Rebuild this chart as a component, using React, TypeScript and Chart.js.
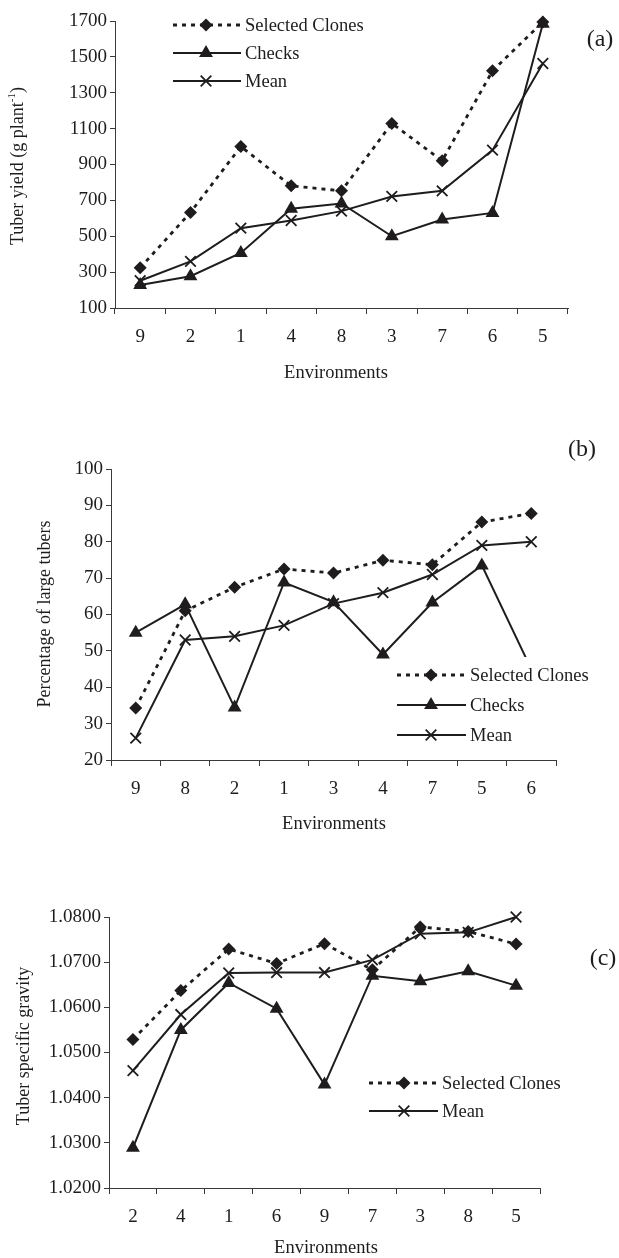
import React, { useEffect, useRef } from 'react';
import { Chart, registerables } from 'chart.js';

Chart.register(...registerables);

// ---------- DATA ----------
const envA = ['9', '2', '1', '4', '8', '3', '7', '6', '5'];
const selA = [324, 633, 1000, 781, 753, 1129, 921, 1422, 1695];
const chkA = [228, 277, 407, 653, 683, 500, 593, 630, 1685];
const meanA = [252, 360, 545, 588, 640, 722, 753, 980, 1463];

const envB = ['9', '8', '2', '1', '3', '4', '7', '5', '6'];
const selB = [34.3, 61, 67.5, 72.5, 71.4, 74.9, 73.7, 85.4, 87.8];
const chkB = [55, 62.8, 34.4, 68.8, 63.4, 49, 63.3, 73.5, 45];
const meanB = [26, 53, 54, 57, 63, 66, 71, 79, 80];

const envC = ['2', '4', '1', '6', '9', '7', '3', '8', '5'];
const selC = [1.0529, 1.0637, 1.0729, 1.0697, 1.0741, 1.0683, 1.0778, 1.0768, 1.074];
const chkC = [1.0289, 1.055, 1.0654, 1.0597, 1.0429, 1.067, 1.0658, 1.068, 1.0648];
const meanC = [1.046, 1.0584, 1.0676, 1.0677, 1.0677, 1.0705, 1.0763, 1.0766, 1.08];

const seriesNames = ['Selected Clones', 'Checks', 'Mean'];
const xTitle = 'Environments';
const yTitleA = 'Tuber yield (g plant';
const yTitleASup = '-1';
const yTitleB = 'Percentage of large tubers';
const yTitleC = 'Tuber specific gravity';

// ---------- STYLE ----------
const INK = '#1e1c1d';
const AXIS = '#3a3a3a';
const FAMILY = '"Liberation Serif", "Times New Roman", serif';
const W = 619;
const XH = 60;
const R_SEL = 6.5;
const R_CHK = 8;
const R_MEAN = 7.5;
const DASH = [4, 5];

type Style = 'sel' | 'chk' | 'mean';

function drawMarker(ctx: CanvasRenderingContext2D, style: Style, x: number, y: number) {
  ctx.save();
  ctx.setLineDash([]);
  ctx.fillStyle = INK;
  ctx.strokeStyle = INK;
  if (style === 'sel') {
    const r = R_SEL;
    ctx.beginPath();
    ctx.moveTo(x, y - r);
    ctx.lineTo(x + r, y);
    ctx.lineTo(x, y + r);
    ctx.lineTo(x - r, y);
    ctx.closePath();
    ctx.fill();
  } else if (style === 'chk') {
    const r = R_CHK;
    const s = Math.sin((2 * Math.PI) / 3) * r;
    ctx.beginPath();
    ctx.moveTo(x, y - r);
    ctx.lineTo(x + s, y + r / 2);
    ctx.lineTo(x - s, y + r / 2);
    ctx.closePath();
    ctx.fill();
  } else {
    const d = R_MEAN * Math.SQRT1_2;
    ctx.lineWidth = 1.8;
    ctx.beginPath();
    ctx.moveTo(x - d, y - d);
    ctx.lineTo(x + d, y + d);
    ctx.moveTo(x + d, y - d);
    ctx.lineTo(x - d, y + d);
    ctx.stroke();
  }
  ctx.restore();
}

type LegendRow = { style: Style; text: string; y: number };
type PanelSpec = {
  top: number;
  height: number;
  area: { left: number; right: number; top: number; bottom: number };
  labels: string[];
  sel: number[];
  chk: number[];
  mean: number[];
  yMin: number;
  yMax: number;
  yStep: number;
  yDec: number;
  yTitle: string;
  yTitleSup?: string;
  yTitlePos: [number, number];
  xTitlePos: [number, number];
  tag: string;
  tagPos: [number, number];
  legend: { x0: number; x1: number; mx: number; tx: number; rows: LegendRow[]; box?: [number, number, number, number] };
};

function makeDecor(spec: PanelSpec) {
  return {
    id: 'decor',
    afterDraw(chart: any) {
      const ctx: CanvasRenderingContext2D = chart.ctx;
      const off = spec.top;
      ctx.save();
      // legend
      const lg = spec.legend;
      if (lg.box) {
        ctx.fillStyle = '#ffffff';
        ctx.fillRect(lg.box[0], lg.box[1] - off, lg.box[2], lg.box[3]);
      }
      for (const row of lg.rows) {
        const y = row.y - off;
        ctx.save();
        ctx.strokeStyle = INK;
        ctx.lineWidth = row.style === 'sel' ? 2.8 : 2;
        ctx.setLineDash(row.style === 'sel' ? DASH : []);
        ctx.beginPath();
        ctx.moveTo(lg.x0, y);
        ctx.lineTo(lg.x1, y);
        ctx.stroke();
        ctx.restore();
        drawMarker(ctx, row.style, lg.mx, y);
        ctx.fillStyle = INK;
        ctx.font = `18.5px ${FAMILY}`;
        ctx.textAlign = 'left';
        ctx.textBaseline = 'middle';
        ctx.fillText(row.text, lg.tx, y + 1);
      }
      // y title (rotated)
      ctx.save();
      ctx.translate(spec.yTitlePos[0], spec.yTitlePos[1] - off);
      ctx.rotate(-Math.PI / 2);
      ctx.fillStyle = INK;
      ctx.textBaseline = 'middle';
      ctx.font = `18px ${FAMILY}`;
      if (spec.yTitleSup) {
        const mainW = ctx.measureText(spec.yTitle).width;
        ctx.font = `11px ${FAMILY}`;
        const supW = ctx.measureText(spec.yTitleSup).width;
        ctx.font = `18px ${FAMILY}`;
        const closeW = ctx.measureText(')').width;
        const total = mainW + supW + closeW;
        let x = -total / 2;
        ctx.textAlign = 'left';
        ctx.fillText(spec.yTitle, x, 0);
        x += mainW;
        ctx.font = `11px ${FAMILY}`;
        ctx.fillText(spec.yTitleSup, x, -6);
        x += supW;
        ctx.font = `18px ${FAMILY}`;
        ctx.fillText(')', x, 0);
      } else {
        ctx.textAlign = 'center';
        ctx.fillText(spec.yTitle, 0, 0);
      }
      ctx.restore();
      // x title
      ctx.fillStyle = INK;
      ctx.font = `18.5px ${FAMILY}`;
      ctx.textAlign = 'center';
      ctx.textBaseline = 'middle';
      ctx.fillText(xTitle, spec.xTitlePos[0], spec.xTitlePos[1] - off);
      // panel tag
      ctx.font = `24px ${FAMILY}`;
      ctx.fillText(spec.tag, spec.tagPos[0], spec.tagPos[1] - off);
      ctx.restore();
    },
  };
}

function Panel({ spec }: { spec: PanelSpec }) {
  const ref = useRef<HTMLCanvasElement>(null);
  useEffect(() => {
    const canvas = ref.current;
    if (!canvas) return;
    const a = spec.area;
    const tickFont = { family: FAMILY, size: 19 };
    const chart = new Chart(canvas, {
      type: 'line',
      data: {
        labels: spec.labels,
        datasets: [
          {
            label: seriesNames[0],
            data: spec.sel,
            borderColor: INK,
            backgroundColor: INK,
            borderWidth: 2.8,
            borderDash: DASH,
            pointStyle: 'rectRot',
            pointRadius: R_SEL,
            pointBorderWidth: 0,
            pointBackgroundColor: INK,
            clip: false,
            tension: 0,
          },
          {
            label: seriesNames[1],
            data: spec.chk,
            borderColor: INK,
            backgroundColor: INK,
            borderWidth: 2,
            pointStyle: 'triangle',
            pointRadius: R_CHK,
            pointBorderWidth: 0,
            pointBackgroundColor: INK,
            clip: false,
            tension: 0,
          },
          {
            label: seriesNames[2],
            data: spec.mean,
            borderColor: INK,
            backgroundColor: INK,
            borderWidth: 2,
            pointStyle: 'crossRot',
            pointRadius: R_MEAN,
            pointBorderWidth: 1.8,
            pointBorderColor: INK,
            clip: false,
            tension: 0,
          },
        ],
      } as any,
      options: {
        responsive: false,
        maintainAspectRatio: false,
        animation: false,
        devicePixelRatio: 1,
        layout: {
          padding: { left: 0, right: W - a.right, top: a.top, bottom: spec.height - a.bottom - XH },
        },
        plugins: { legend: { display: false }, tooltip: { enabled: false } },
        scales: {
          x: {
            type: 'category',
            offset: true,
            grid: { offset: true, drawOnChartArea: false, drawTicks: true, tickLength: 6, color: AXIS, lineWidth: 1 },
            border: { color: AXIS, width: 1 },
            ticks: { font: tickFont, color: INK, padding: 12, maxRotation: 0, autoSkip: false },
            afterFit: (s: any) => {
              s.height = XH;
            },
          },
          y: {
            min: spec.yMin,
            max: spec.yMax,
            grid: { drawOnChartArea: false, drawTicks: true, tickLength: 5, color: AXIS, lineWidth: 1 },
            border: { color: AXIS, width: 1 },
            ticks: {
              font: tickFont,
              color: INK,
              padding: 3,
              stepSize: spec.yStep,
              callback: (v: any) => Number(v).toFixed(spec.yDec),
            },
            afterFit: (s: any) => {
              s.width = a.left;
            },
          },
        },
      } as any,
      plugins: [makeDecor(spec)],
    });
    return () => chart.destroy();
  }, [spec]);
  return (
    <canvas
      ref={ref}
      width={W}
      height={spec.height}
      style={{ position: 'absolute', left: 0, top: spec.top, width: W, height: spec.height }}
    />
  );
}

const specA: PanelSpec = {
  top: 0,
  height: 400,
  area: { left: 115, right: 568, top: 21, bottom: 308 },
  labels: envA,
  sel: selA,
  chk: chkA,
  mean: meanA,
  yMin: 100,
  yMax: 1700,
  yStep: 200,
  yDec: 0,
  yTitle: yTitleA,
  yTitleSup: yTitleASup,
  yTitlePos: [18, 166],
  xTitlePos: [336, 373],
  tag: '(a)',
  tagPos: [600, 40],
  legend: {
    x0: 173,
    x1: 241,
    mx: 206,
    tx: 245,
    rows: [
      { style: 'sel', text: seriesNames[0], y: 25 },
      { style: 'chk', text: seriesNames[1], y: 53 },
      { style: 'mean', text: seriesNames[2], y: 81 },
    ],
  },
};

const specB: PanelSpec = {
  top: 420,
  height: 420,
  area: { left: 111, right: 556, top: 49, bottom: 340 },
  labels: envB,
  sel: selB,
  chk: chkB,
  mean: meanB,
  yMin: 20,
  yMax: 100,
  yStep: 10,
  yDec: 0,
  yTitle: yTitleB,
  yTitlePos: [45, 614],
  xTitlePos: [334, 824],
  tag: '(b)',
  tagPos: [582, 450],
  legend: {
    x0: 397,
    x1: 466,
    mx: 431,
    tx: 470,
    box: [392, 657, 215, 92],
    rows: [
      { style: 'sel', text: seriesNames[0], y: 675 },
      { style: 'chk', text: seriesNames[1], y: 705 },
      { style: 'mean', text: seriesNames[2], y: 735 },
    ],
  },
};

const specC: PanelSpec = {
  top: 840,
  height: 418,
  area: { left: 109, right: 540, top: 77, bottom: 348 },
  labels: envC,
  sel: selC,
  chk: chkC,
  mean: meanC,
  yMin: 1.02,
  yMax: 1.08,
  yStep: 0.01,
  yDec: 4,
  yTitle: yTitleC,
  yTitlePos: [24, 1046],
  xTitlePos: [326, 1248],
  tag: '(c)',
  tagPos: [603, 959],
  legend: {
    x0: 369,
    x1: 438,
    mx: 404,
    tx: 442,
    rows: [
      { style: 'sel', text: seriesNames[0], y: 1083 },
      { style: 'mean', text: seriesNames[2], y: 1111 },
    ],
  },
};

export default function App() {
  return (
    <div style={{ position: 'absolute', left: 0, top: 0, width: W, height: 1258, background: '#ffffff' }}>
      <Panel spec={specA} />
      <Panel spec={specB} />
      <Panel spec={specC} />
    </div>
  );
}
